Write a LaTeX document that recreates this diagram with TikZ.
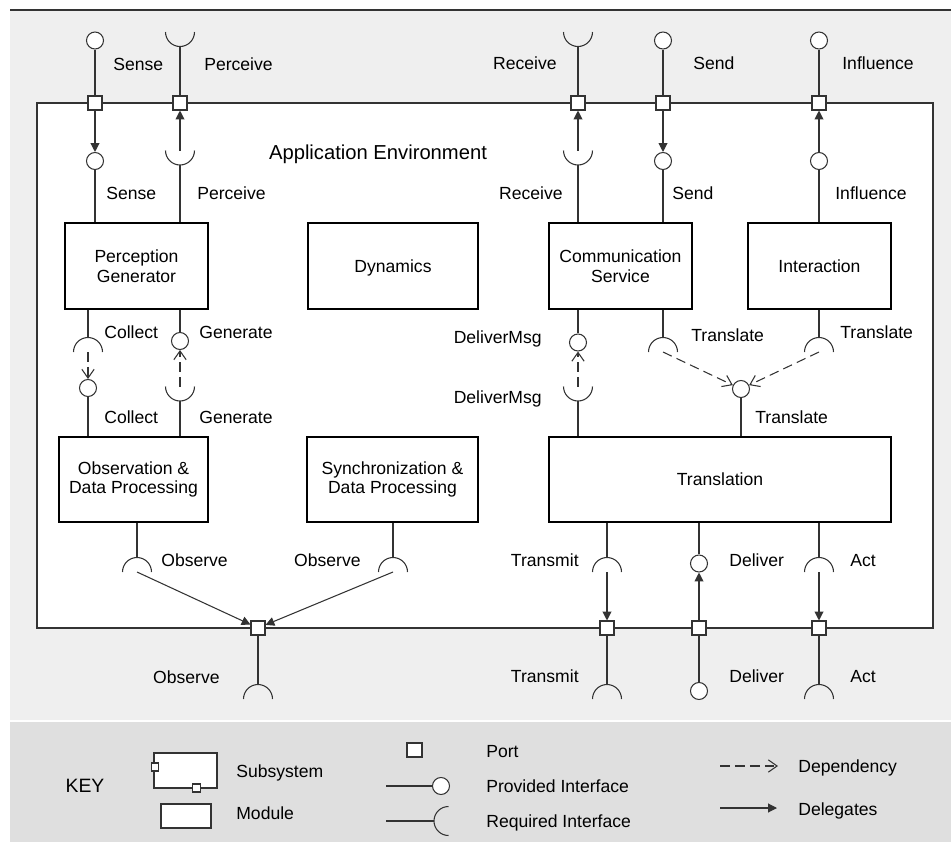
\documentclass[tikz,border=0pt]{standalone}
\usepackage{fontspec}
\setmainfont{Liberation Sans}
\usetikzlibrary{arrows.meta}
\newcommand\pxu{0.02cm}
\definecolor{ink}{HTML}{333333}
\definecolor{paneback}{HTML}{EFEFEF}
\definecolor{keyback}{HTML}{DFDFDF}

\begin{document}
\begin{tikzpicture}[x=0.02cm,y=-0.02cm,
  lbl/.style={inner sep=0pt,text height=7.2pt,text depth=0pt,font=\fontsize{10}{12}\selectfont},
  module/.style={draw=black,fill=white,line width=0.65pt,align=center,inner sep=0pt,
    font=\fontsize{10}{11.3}\selectfont},
  port/.style={draw=ink,fill=white,line width=0.6pt,rectangle,
    minimum width=14*\pxu,minimum height=14*\pxu,inner sep=0pt},
  provided/.style={draw=ink,fill=white,line width=0.6pt,circle,minimum size=17*\pxu,inner sep=0pt},
  wire/.style={draw=ink,line width=0.6pt},
  delegate/.style={wire,-{Triangle[length=5pt,width=5pt]}},
  depend/.style={wire,dash pattern=on 5.5pt off 3pt,-{Straight Barb[length=5pt,width=7pt]}},
  % required interface, socket opening upward
  sockup/.pic={\draw[wire] (14.5,0) arc[start angle=0,end angle=180,radius=14.5];
    \coordinate (-c) at (0,0); \coordinate (-b) at (0,14.5);},
  % required interface, socket opening downward
  sockdown/.pic={\draw[wire] (-14.5,0) arc[start angle=180,end angle=360,radius=14.5];
    \coordinate (-c) at (0,0); \coordinate (-a) at (0,-14.5);},
]
\useasboundingbox (0,0) rectangle (951,842);

% backgrounds
\fill[paneback] (10,10) rectangle (951,720);
\draw[ink,line width=0.6pt] (10,10) -- (951,10);
\fill[keyback] (10,722) rectangle (951,842);

% application environment subsystem
\draw[ink,fill=white,line width=0.6pt] (37,103) rectangle (933,628);
\node[inner sep=0pt,font=\fontsize{11.5}{13}\selectfont] (title) at (378,154) {Application Environment};

% modules
\node[module,minimum width=143*\pxu,minimum height=86*\pxu] (pg) at (136.5,266) {Perception\\Generator};
\node[module,minimum width=170*\pxu,minimum height=86*\pxu,text depth=0pt] (dyn) at (393,266) {Dynamics};
\node[module,minimum width=143*\pxu,minimum height=86*\pxu] (cs) at (620.5,266) {Communication\\Service};
\node[module,minimum width=143*\pxu,minimum height=86*\pxu] (int) at (819.5,266) {Interaction};
\node[module,minimum width=149*\pxu,minimum height=85*\pxu] (odp) at (133.5,479.5) {Observation \&\\Data Processing};
\node[module,minimum width=171*\pxu,minimum height=85*\pxu] (sdp) at (392.5,479.5) {Synchronization \&\\Data Processing};
\node[module,minimum width=342*\pxu,minimum height=85*\pxu] (tr) at (720,479.5) {Translation};

% ports on the top edge
\node[port] (pSense) at (95,103) {};
\node[port] (pPerc) at (180,103) {};
\node[port] (pRecv) at (578,103) {};
\node[port] (pSend) at (663,103) {};
\node[port] (pInfl) at (819,103) {};

% external interfaces, top
\node[provided] (oSense) at (95,40.5) {};
\pic (oPerc) at (180,32) {sockup};
\pic (oRecv) at (578,32) {sockup};
\node[provided] (oSend) at (663,40.5) {};
\node[provided] (oInfl) at (819,40.5) {};
\draw[wire] (oSense) -- (pSense);
\draw[wire] (oPerc-b) -- (pPerc);
\draw[wire] (oRecv-b) -- (pRecv);
\draw[wire] (oSend) -- (pSend);
\draw[wire] (oInfl) -- (pInfl);

% internal interfaces, top
\node[provided] (iSense) at (95,161) {};
\pic (iPerc) at (180,150.5) {sockup};
\pic (iRecv) at (578,150.5) {sockup};
\node[provided] (iSend) at (663,161) {};
\node[provided] (iInfl) at (819,161) {};
\draw[delegate] (pSense) -- (iSense);
\draw[delegate] (iPerc-c) -- (pPerc);
\draw[delegate] (iRecv-c) -- (pRecv);
\draw[delegate] (pSend) -- (iSend);
\draw[delegate] (iInfl) -- (pInfl);
\draw[wire] (iSense) -- (iSense |- pg.north);
\draw[wire] (iPerc-b) -- (iPerc-b |- pg.north);
\draw[wire] (iRecv-b) -- (iRecv-b |- cs.north);
\draw[wire] (iSend) -- (iSend |- cs.north);
\draw[wire] (iInfl) -- (iInfl |- int.north);

% Collect / Generate
\pic (colU) at (88,352) {sockdown};
\node[provided] (colL) at (88,388) {};
\draw[wire] (colU-a |- pg.south) -- (colU-a);
\draw[depend] (colU-c) -- (colL);
\draw[wire] (colL) -- (colL |- odp.north);
\node[provided] (genU) at (180,341) {};
\pic (genL) at (180,386.5) {sockup};
\draw[wire] (genU |- pg.south) -- (genU);
\draw[depend] (genL-c) -- (genU);
\draw[wire] (genL-b) -- (genL-b |- odp.north);

% DeliverMsg
\node[provided] (dmU) at (578,342.5) {};
\pic (dmL) at (578,386.5) {sockup};
\draw[wire] (dmU |- cs.south) -- (dmU);
\draw[depend] (dmL-c) -- (dmU);
\draw[wire] (dmL-b) -- (dmL-b |- tr.north);

% Translate
\pic (trA) at (663,352) {sockdown};
\pic (trB) at (819,352) {sockdown};
\node[provided] (trC) at (741,389) {};
\draw[wire] (trA-a |- cs.south) -- (trA-a);
\draw[wire] (trB-a |- int.south) -- (trB-a);
\draw[depend] (trA-c) -- (trC);
\draw[depend] (trB-c) -- (trC);
\draw[wire] (trC) -- (trC |- tr.north);

% ports on the bottom edge
\node[port] (pObs) at (258,628) {};
\node[port] (pTm) at (607,628) {};
\node[port] (pDv) at (699,628) {};
\node[port] (pAc) at (819,628) {};

% Observe
\pic (obA) at (137,572) {sockdown};
\pic (obB) at (393,572) {sockdown};
\pic (obO) at (258,699) {sockdown};
\draw[wire] (obA-a |- odp.south) -- (obA-a);
\draw[wire] (obB-a |- sdp.south) -- (obB-a);
\draw[delegate] (obA-c) -- (pObs);
\draw[delegate] (obB-c) -- (pObs);
\draw[wire] (pObs) -- (obO-a);

% Transmit
\pic (tmA) at (607,572) {sockdown};
\pic (tmO) at (607,699) {sockdown};
\draw[wire] (tmA-a |- tr.south) -- (tmA-a);
\draw[delegate] (tmA-c) -- (pTm);
\draw[wire] (pTm) -- (tmO-a);

% Deliver
\node[provided] (dvA) at (699,563.5) {};
\node[provided] (dvO) at (699,691) {};
\draw[wire] (dvA |- tr.south) -- (dvA);
\draw[delegate] (pDv) -- (dvA);
\draw[wire] (pDv) -- (dvO);

% Act
\pic (acA) at (819,572) {sockdown};
\pic (acO) at (819,699) {sockdown};
\draw[wire] (acA-a |- tr.south) -- (acA-a);
\draw[delegate] (acA-c) -- (pAc);
\draw[wire] (pAc) -- (acO-a);

% interface labels
\node[lbl,anchor=west] (lSenseO) at (113,64) {Sense};
\node[lbl,anchor=west] (lPercO) at (204,64) {Perceive};
\node[lbl,anchor=east] (lRecvO) at (557,63) {Receive};
\node[lbl,anchor=west] (lSendO) at (693,63) {Send};
\node[lbl,anchor=west] (lInflO) at (842,63) {Influence};
\node[lbl,anchor=west] (lSenseI) at (106,193) {Sense};
\node[lbl,anchor=west] (lPercI) at (197,193) {Perceive};
\node[lbl,anchor=east] (lRecvI) at (563,193) {Receive};
\node[lbl,anchor=west] (lSendI) at (672,193) {Send};
\node[lbl,anchor=west] (lInflI) at (835,193) {Influence};
\node[lbl,anchor=west] (lColU) at (104,332) {Collect};
\node[lbl,anchor=west] (lColL) at (104,417) {Collect};
\node[lbl,anchor=west] (lGenU) at (199,332) {Generate};
\node[lbl,anchor=west] (lGenL) at (199,417) {Generate};
\node[lbl,anchor=east] (lDmU) at (542,337) {DeliverMsg};
\node[lbl,anchor=east] (lDmL) at (542,397) {DeliverMsg};
\node[lbl,anchor=west] (lTrA) at (691,335) {Translate};
\node[lbl,anchor=west] (lTrB) at (840,332) {Translate};
\node[lbl,anchor=west] (lTrC) at (755,417) {Translate};
\node[lbl,anchor=west] (lObA) at (161,560) {Observe};
\node[lbl,anchor=east] (lObB) at (361,560) {Observe};
\node[lbl,anchor=east] (lObO) at (220,677) {Observe};
\node[lbl,anchor=east] (lTmA) at (579,560) {Transmit};
\node[lbl,anchor=east] (lTmO) at (579,676) {Transmit};
\node[lbl,anchor=west] (lDvA) at (729,560) {Deliver};
\node[lbl,anchor=west] (lDvO) at (729,676) {Deliver};
\node[lbl,anchor=west] (lAcA) at (850,560) {Act};
\node[lbl,anchor=west] (lAcO) at (850,676) {Act};

% key
\node[inner sep=0pt,font=\fontsize{11}{13}\selectfont] (keyTitle) at (85,786) {KEY};
\node[draw=ink,fill=white,line width=0.6pt,minimum width=63*\pxu,minimum height=35*\pxu,inner sep=0pt] (keySub) at (185.5,770.5) {};
\node[port,minimum width=7*\pxu,minimum height=8*\pxu] (keySubP1) at (155,767) {};
\node[port,minimum width=8*\pxu,minimum height=8*\pxu] (keySubP2) at (196.5,788) {};
\node[lbl,anchor=west] (keySubL) at (236,771) {Subsystem};
\node[draw=ink,fill=white,line width=0.6pt,minimum width=50*\pxu,minimum height=24*\pxu,inner sep=0pt] (keyMod) at (186,816) {};
\node[lbl,anchor=west] (keyModL) at (236,813) {Module};

\node[port,minimum width=15*\pxu] (keyPort) at (414.5,750) {};
\node[lbl,anchor=west] (keyPortL) at (486,751) {Port};
\node[provided] (keyProv) at (441,786) {};
\coordinate (keyProvEnd) at (386,786);
\draw[wire] (keyProvEnd) -- (keyProv);
\node[lbl,anchor=west] (keyProvL) at (486,786) {Provided Interface};
\coordinate (keyReq) at (448.5,821);
\coordinate (keyReqEnd) at (386,821);
\draw[wire] ([shift={(0,-14.5)}]keyReq) arc[start angle=270,end angle=90,radius=14.5];
\draw[wire] (keyReqEnd) -- ([shift={(-14.5,0)}]keyReq);
\node[lbl,anchor=west] (keyReqL) at (486,821) {Required Interface};

\coordinate (keyDepA) at (720,766);
\coordinate (keyDepB) at (778,766);
\draw[depend] (keyDepA) -- (keyDepB);
\node[lbl,anchor=west] (keyDepL) at (798,766) {Dependency};
\coordinate (keyDelA) at (720,808);
\coordinate (keyDelB) at (777,808);
\draw[delegate] (keyDelA) -- (keyDelB);
\node[lbl,anchor=west] (keyDelL) at (798,809) {Delegates};
\end{tikzpicture}
\end{document}
